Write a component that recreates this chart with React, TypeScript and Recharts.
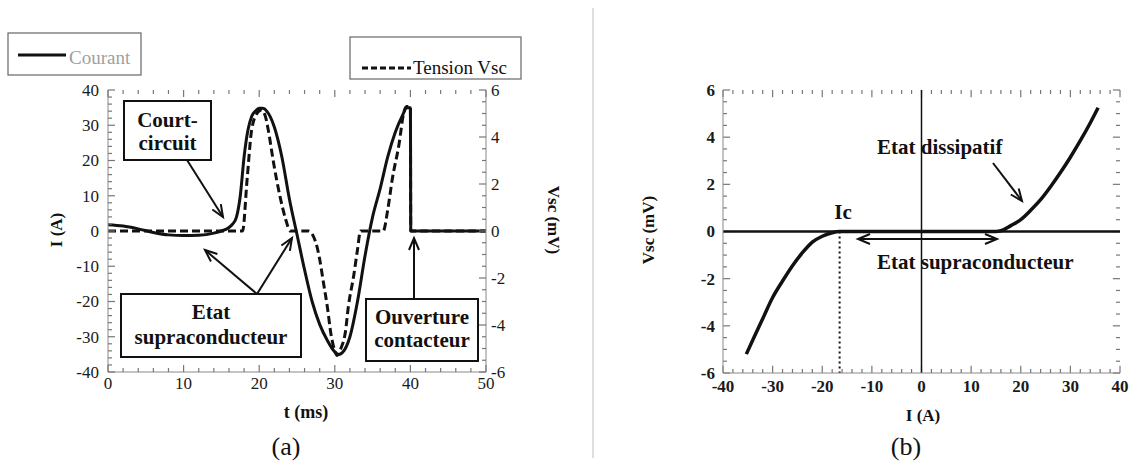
import React from 'react';
import { LineChart, Line, XAxis, YAxis, ReferenceLine } from 'recharts';

// ---------- (a) time traces ----------
const courantT = [0, 2, 4, 6, 8, 10, 12, 14, 15, 16, 16.5, 17, 17.5, 18, 18.5, 19, 19.5, 20, 20.5, 21, 22, 23, 24, 25, 26, 27, 28, 29, 30, 30.5, 31, 32, 33, 34, 35, 36, 37, 38, 39, 39.5, 40, 40.05, 45, 50];
const courantI = [1.8, 1.4, 0.6, -0.4, -1.1, -1.3, -1.2, -0.6, 0, 1, 2, 4, 10, 21, 28.5, 32.5, 34, 34.8, 34.8, 34, 29.5, 21, 9, -1, -11, -20, -26.5, -31, -34.3, -35, -34.5, -30, -20, -7, 4, 12, 21, 28, 33, 35, 35, 0, 0, 0];

const tensionT = [0, 17.8, 18.4, 19, 19.7, 20.3, 20.8, 21.2, 21.9, 22.8, 23.5, 24.1, 26.5, 27.5, 28, 28.5, 29, 29.5, 30, 30.3, 30.8, 31.4, 31.8, 32.5, 33, 33.4, 36.4, 37, 37.6, 38.5, 39.1, 39.5, 40, 40.05, 50];
const tensionV = [0, 0, 2.2, 4.3, 5.0, 5.15, 4.9, 4.3, 2.9, 1.4, 0.5, 0, 0, -0.5, -1.2, -2.2, -3.2, -4.4, -5.1, -5.3, -5.0, -4.3, -3.2, -1.9, -0.8, 0, 0, 0.9, 2.2, 3.7, 5.0, 5.3, 5.3, 0, 0];

// ---------- (b) V(I) characteristic ----------
const ivI = [-35.3, -34, -32, -30, -28, -26, -24, -22, -20, -18, -16.5, 0, 15, 16, 18, 20, 22, 24, 26, 28, 30, 32, 34, 35.6];
const ivV = [-5.2, -4.6, -3.7, -2.8, -2.1, -1.45, -0.9, -0.45, -0.2, -0.05, 0, 0, 0, 0.03, 0.25, 0.5, 0.9, 1.35, 1.9, 2.5, 3.15, 3.85, 4.6, 5.25];
const icValue = -16.5;

// axes
const tDomain = [0, 50];
const iDomain = [-40, 40];
const vDomain = [-6, 6];
const ibDomain = [-40, 40];
const vbDomain = [-6, 6];
const tLabels = [0, 10, 20, 30, 40, 50];
const iLabels = [-40, -30, -20, -10, 0, 10, 20, 30, 40];
const vLabels = [-6, -4, -2, 0, 2, 4, 6];
const ibLabels = [-40, -30, -20, -10, 0, 10, 20, 30, 40];
const vbLabels = [-6, -4, -2, 0, 2, 4, 6];

const range = (a: number, b: number, s: number) => {
  const out: number[] = [];
  for (let k = 0; a + k * s <= b + 1e-9; k++) out.push(Math.round((a + k * s) * 100) / 100);
  return out;
};
const tMinor = range(0, 50, 2);
const iMinor = range(-40, 40, 2);
const vMinor = range(-6, 6, 0.5);
const ibMinor = range(-40, 40, 2);
const vbMinor = range(-6, 6, 0.5);

const courantData = courantT.map((t, k) => ({ t, i: courantI[k] }));
const tensionData = tensionT.map((t, k) => ({ t, v: tensionV[k] }));
const ivData = ivI.map((i, k) => ({ i, v: ivV[k] }));

const SERIF = '"Liberation Serif", "Times New Roman", serif';
const FRAME = '#8a8a8a';
const TICK = '#777';

const isMult = (v: number, m: number) => Math.abs(v / m - Math.round(v / m)) < 1e-6;

// plot box of chart (a), set by its margins and axis sizes below
const marginA = { top: 90, right: 64, bottom: 65, left: 58 };
const boxA = { left: 108, right: 486, top: 90, bottom: 372 };

// inward frame ticks drawn as short reference segments in data space
function frameTicks(prefix: string, xId: string, yId: string, xs: number[], ys: number[],
  xd: number[], yd: number[], xMaj: number, yMaj: number, lx: number, ly: number, sides: string) {
  const out: any[] = [];
  const seg = (key: string, a: any, b: any) => (
    <ReferenceLine key={key} xAxisId={xId} yAxisId={yId} segment={[a, b]} stroke={TICK} strokeWidth={1.2} ifOverflow="visible" />
  );
  xs.forEach((v) => {
    const f = isMult(v, xMaj) ? 1.8 : 1;
    if (sides.includes('b')) out.push(seg(`${prefix}b${v}`, { x: v, y: yd[0] }, { x: v, y: yd[0] + ly * f }));
    if (sides.includes('t')) out.push(seg(`${prefix}t${v}`, { x: v, y: yd[1] }, { x: v, y: yd[1] - ly * f }));
  });
  ys.forEach((v) => {
    const f = isMult(v, yMaj) ? 1.8 : 1;
    if (sides.includes('l')) out.push(seg(`${prefix}l${v}`, { x: xd[0], y: v }, { x: xd[0] + lx * f, y: v }));
    if (sides.includes('r')) out.push(seg(`${prefix}r${v}`, { x: xd[1], y: v }, { x: xd[1] - lx * f, y: v }));
  });
  return out;
}

const labelTick = (side: 'bottom' | 'left' | 'right', weight: number) => (props: any) => {
  const { x, y, payload } = props;
  const font = { fontFamily: SERIF, fontSize: 17, fontWeight: weight, fill: '#1a1a1a' };
  if (side === 'bottom') return <text x={x} y={y} dy="0.78em" textAnchor="middle" {...font}>{payload.value}</text>;
  if (side === 'left') return <text x={x} y={y} dy="0.35em" textAnchor="end" {...font}>{payload.value}</text>;
  return <text x={x} y={y} dy="0.35em" textAnchor="start" {...font}>{payload.value}</text>;
};

function ChartA() {
  return (
    <LineChart width={600} height={467} data={courantData} margin={marginA}>
      <XAxis xAxisId="x" dataKey="t" type="number" domain={tDomain} ticks={tLabels} interval={0} allowDataOverflow
        height={30} tickLine={false} tickSize={0} tickMargin={4} axisLine={{ stroke: FRAME }} tick={labelTick('bottom', 400)} />
      <XAxis xAxisId="xt" orientation="top" dataKey="t" type="number" domain={tDomain} allowDataOverflow
        height={0} tickLine={false} tick={false} axisLine={{ stroke: FRAME }} />
      <YAxis yAxisId="l" type="number" domain={iDomain} ticks={iLabels} interval={0} allowDataOverflow width={50}
        tickLine={false} tickSize={0} tickMargin={9} axisLine={{ stroke: FRAME }} tick={labelTick('left', 400)} />
      <YAxis yAxisId="r" orientation="right" type="number" domain={vDomain} ticks={vLabels} interval={0} allowDataOverflow width={50}
        tickLine={false} tickSize={0} tickMargin={5} axisLine={{ stroke: FRAME }} tick={labelTick('right', 400)} />
      <Line xAxisId="x" yAxisId="r" data={tensionData} dataKey="v" type="monotone" stroke="#111"
        strokeWidth={3} strokeDasharray="8 4" dot={false} isAnimationActive={false} />
      <Line xAxisId="x" yAxisId="l" dataKey="i" type="monotone" stroke="#111"
        strokeWidth={3} dot={false} isAnimationActive={false} />
    </LineChart>
  );
}

// frame ticks of (a), mapped linearly onto the plot box of chart (a)
function TicksA() {
  const px = (t: number) => boxA.left + ((t - tDomain[0]) / (tDomain[1] - tDomain[0])) * (boxA.right - boxA.left);
  const pyI = (i: number) => boxA.top + ((iDomain[1] - i) / (iDomain[1] - iDomain[0])) * (boxA.bottom - boxA.top);
  const pyV = (v: number) => boxA.top + ((vDomain[1] - v) / (vDomain[1] - vDomain[0])) * (boxA.bottom - boxA.top);
  const segs: any[] = [];
  tMinor.forEach((t) => {
    const len = isMult(t, 10) ? 7 : 4;
    const x = px(t);
    segs.push(<path key={`b${t}`} d={`M${x},${boxA.bottom}V${boxA.bottom - len}`} />);
    segs.push(<path key={`t${t}`} d={`M${x},${boxA.top}V${boxA.top + len}`} />);
  });
  iMinor.forEach((i) => {
    const len = isMult(i, 10) ? 7 : 4;
    const y = pyI(i);
    segs.push(<path key={`l${i}`} d={`M${boxA.left},${y}H${boxA.left + len}`} />);
  });
  vMinor.forEach((v) => {
    const len = isMult(v, 2) ? 7 : 4;
    const y = pyV(v);
    segs.push(<path key={`r${v}`} d={`M${boxA.right},${y}H${boxA.right - len}`} />);
  });
  return <g stroke={TICK} strokeWidth={1.2} fill="none">{segs}</g>;
}

function ChartB() {
  return (
    <LineChart width={532} height={467} data={ivData} margin={{ top: 90, right: 12, bottom: 64, left: 83 }}>
      <XAxis xAxisId="x" dataKey="i" type="number" domain={ibDomain} ticks={ibLabels} interval={0} allowDataOverflow
        height={30} tickLine={false} tickSize={0} tickMargin={6} axisLine={{ stroke: FRAME }} tick={labelTick('bottom', 700)} />
      <XAxis xAxisId="xt" orientation="top" type="number" domain={ibDomain} allowDataOverflow
        height={0} tickLine={false} tick={false} axisLine={{ stroke: FRAME }} />
      <YAxis yAxisId="l" type="number" domain={vbDomain} ticks={vbLabels} interval={0} allowDataOverflow width={40}
        tickLine={false} tickSize={0} tickMargin={8} axisLine={{ stroke: FRAME }} tick={labelTick('left', 700)} />
      <YAxis yAxisId="rr" orientation="right" type="number" domain={vbDomain} allowDataOverflow width={0}
        tickLine={false} tick={false} axisLine={{ stroke: FRAME }} />
      {frameTicks('b1', 'x', 'l', ibMinor, vbMinor, ibDomain, vbDomain, 10, 2, 0.8, 0.17, 'btlr')}
      <ReferenceLine xAxisId="x" yAxisId="l" x={0} stroke="#111" strokeWidth={1.5} />
      <ReferenceLine xAxisId="x" yAxisId="l" y={0} stroke="#111" strokeWidth={2.5} />
      <ReferenceLine xAxisId="x" yAxisId="l" segment={[{ x: icValue, y: 0 }, { x: icValue, y: -6 }]}
        stroke="#111" strokeWidth={2} strokeDasharray="2 3" />
      <Line xAxisId="x" yAxisId="l" dataKey="v" type="monotone" stroke="#111" strokeWidth={3.5}
        dot={false} isAnimationActive={false} />
    </LineChart>
  );
}

function Overlay() {
  const bold = { fontFamily: SERIF, fontWeight: 700, fontSize: 21, fill: '#111' } as const;
  const title = { fontFamily: SERIF, fontWeight: 700, fontSize: 17, fill: '#111' } as const;
  return (
    <svg width={1132} height={467} style={{ position: 'absolute', left: 0, top: 0, pointerEvents: 'none' }}>
      <defs>
        <marker id="arr" markerUnits="userSpaceOnUse" markerWidth="16" markerHeight="12" refX="13" refY="6" orient="auto-start-reverse">
          <path d="M1,1 L13,6 L1,11" fill="none" stroke="#111" strokeWidth="2" />
        </marker>
      </defs>
      <TicksA />
      {/* separator */}
      <line x1={593} y1={8} x2={593} y2={458} stroke="#c8c8c8" strokeWidth={1.2} />

      {/* legends */}
      <rect x={8} y={33} width={133} height={42} fill="#fff" stroke="#666" strokeWidth={1.2} />
      <line x1={18} y1={55} x2={66} y2={55} stroke="#111" strokeWidth={3} />
      <text x={69} y={64} fontFamily={SERIF} fontSize={19} fill="#a0a0a0">Courant</text>
      <rect x={350} y={37} width={171} height={42} fill="#fff" stroke="#666" strokeWidth={1.2} />
      <line x1={362} y1={68} x2={411} y2={68} stroke="#111" strokeWidth={3} strokeDasharray="6 3" />
      <text x={413} y={74} fontFamily={SERIF} fontSize={19} fill="#111">Tension Vsc</text>

      {/* axis titles (a) */}
      <text x={56} y={230} transform="rotate(-90 56 230)" textAnchor="middle" dominantBaseline="central" {...title}>I (A)</text>
      <text x={553} y={220} transform="rotate(90 553 220)" textAnchor="middle" dominantBaseline="central" {...title}>Vsc (mV)</text>
      <text x={306} y={418} textAnchor="middle" {...title} fontSize={18}>t (ms)</text>
      <text x={286} y={455} textAnchor="middle" fontFamily={SERIF} fontSize={26} fill="#111">(a)</text>

      {/* annotations (a) */}
      <line x1={187} y1={160} x2={223} y2={217} stroke="#111" strokeWidth={2} markerEnd="url(#arr)" />
      <rect x={124} y={101} width={87} height={59} fill="#fff" stroke="#111" strokeWidth={2} />
      <text x={167.5} y={127} textAnchor="middle" {...bold}>Court-</text>
      <text x={167.5} y={150} textAnchor="middle" {...bold}>circuit</text>

      <line x1={257} y1={294} x2={205} y2={250} stroke="#111" strokeWidth={2} markerEnd="url(#arr)" />
      <line x1={257} y1={294} x2={292} y2={238} stroke="#111" strokeWidth={2} markerEnd="url(#arr)" />
      <rect x={121} y={294} width={180} height={63} fill="#fff" stroke="#111" strokeWidth={2} />
      <text x={211} y={319} textAnchor="middle" {...bold}>Etat</text>
      <text x={211} y={344} textAnchor="middle" {...bold}>supraconducteur</text>

      <line x1={414} y1={299} x2={414} y2={238} stroke="#111" strokeWidth={2} markerEnd="url(#arr)" />
      <rect x={366} y={299} width={112} height={62} fill="#fff" stroke="#111" strokeWidth={2} />
      <text x={422} y={324} textAnchor="middle" {...bold}>Ouverture</text>
      <text x={422} y={347} textAnchor="middle" {...bold}>contacteur</text>

      {/* axis titles (b) */}
      <text x={648} y={230} transform="rotate(-90 648 230)" textAnchor="middle" dominantBaseline="central" {...title}>Vsc (mV)</text>
      <text x={923} y={421} textAnchor="middle" {...title}>I (A)</text>
      <text x={906} y={455} textAnchor="middle" fontFamily={SERIF} fontSize={26} fill="#111">(b)</text>

      {/* annotations (b) */}
      <text x={843} y={219} textAnchor="middle" {...bold}>Ic</text>
      <text x={877} y={154} {...bold}>Etat dissipatif</text>
      <line x1={993} y1={163} x2={1022} y2={201} stroke="#111" strokeWidth={2} markerEnd="url(#arr)" />
      <line x1={858} y1={239} x2={997} y2={239} stroke="#111" strokeWidth={2} markerStart="url(#arr)" markerEnd="url(#arr)" />
      <text x={877} y={269} {...bold}>Etat supraconducteur</text>
    </svg>
  );
}

export default function App() {
  return (
    <div style={{ position: 'absolute', left: 0, top: 0, width: 1132, height: 467, background: '#fff', overflow: 'hidden', fontFamily: SERIF }}>
      <div style={{ position: 'absolute', left: 0, top: 0 }}><ChartA /></div>
      <div style={{ position: 'absolute', left: 600, top: 0 }}><ChartB /></div>
      <Overlay />
    </div>
  );
}
